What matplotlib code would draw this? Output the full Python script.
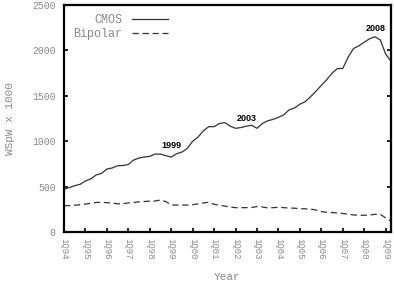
import matplotlib
matplotlib.use('Agg')
import matplotlib.pyplot as plt

# quarterly values, 1Q94 .. 2Q09 (WSpW x 1000)
cmos = [470, 490, 510, 525, 562, 585, 628, 645, 694, 705, 730, 732,
        743, 793, 815, 826, 833, 858, 858, 840, 825, 862, 880, 920,
        1000, 1045, 1115, 1160, 1160, 1195, 1205, 1165, 1142, 1150, 1165, 1175,
        1142, 1195, 1225, 1240, 1262, 1290, 1345, 1365, 1408, 1435, 1490, 1550,
        1615, 1678, 1748, 1800, 1800, 1925, 2020, 2050, 2090, 2128, 2150, 2115,
        1960, 1880]
bipolar = [290, 290, 295, 300, 308, 315, 325, 327, 323, 320, 310, 312,
           320, 325, 332, 336, 340, 341, 352, 335, 297, 297, 297, 297,
           300, 310, 320, 327, 305, 295, 285, 275, 268, 268, 268, 270,
           280, 275, 265, 268, 272, 268, 264, 262, 257, 255, 252, 242,
           225, 217, 214, 210, 204, 196, 188, 184, 184, 186, 195, 195,
           155, 120]
tick_labels = ['1Q94', '1Q95', '1Q96', '1Q97', '1Q98', '1Q99', '1Q00', '1Q01',
               '1Q02', '1Q03', '1Q04', '1Q05', '1Q06', '1Q07', '1Q08', '1Q09']
notes = [('1999', 20.1, 950), ('2003', 34.1, 1255), ('2008', 58.1, 2245)]

mono = 'Liberation Mono'
grey = '#8a8a8a'

fig = plt.figure(figsize=(3.94, 2.85), dpi=100)
ax = fig.add_axes([0.1624, 0.186, 0.83, 0.7965])

x = range(len(cmos))
ax.plot(x, cmos, color='#333333', lw=0.9, label='CMOS')
ax.plot(x, bipolar, color='#333333', lw=0.9, dashes=(5, 3), label='Bipolar')

ax.set_xlim(0, 61)
ax.set_ylim(0, 2500)
ax.set_xticks(range(0, 61, 4))
ax.set_xticklabels(tick_labels, rotation=270, fontfamily=mono, fontsize=6.5, color=grey)
ax.set_yticks(range(0, 2501, 500))
ax.set_yticklabels([str(v) for v in range(0, 2501, 500)], fontfamily=mono, fontsize=7, color=grey)
ax.tick_params(axis='both', direction='in', length=3, width=1.2, color='black')
ax.tick_params(axis='y', right=True, pad=6)
ax.tick_params(axis='x', pad=4)
for s in ax.spines.values():
    s.set_linewidth(1.6)

ax.set_xlabel('Year', fontfamily=mono, fontsize=8, color=grey, labelpad=9)
ax.set_ylabel('WSpW x 1000', fontfamily=mono, fontsize=8, color=grey, labelpad=12)

for txt, xx, yy in notes:
    ax.text(xx, yy, txt, ha='center', va='center', fontsize=6.5,
            fontweight='bold', fontfamily='Liberation Sans')

leg = ax.legend(loc='upper left', frameon=False, markerfirst=False,
                prop={'family': mono, 'size': 8.5}, handlelength=3.1,
                labelspacing=0.15, borderaxespad=0.4, bbox_to_anchor=(0.0, 1.0))
for t in leg.get_texts():
    t.set_color(grey)
    t.set_ha('right')

fig.savefig('out.png', dpi=100)
